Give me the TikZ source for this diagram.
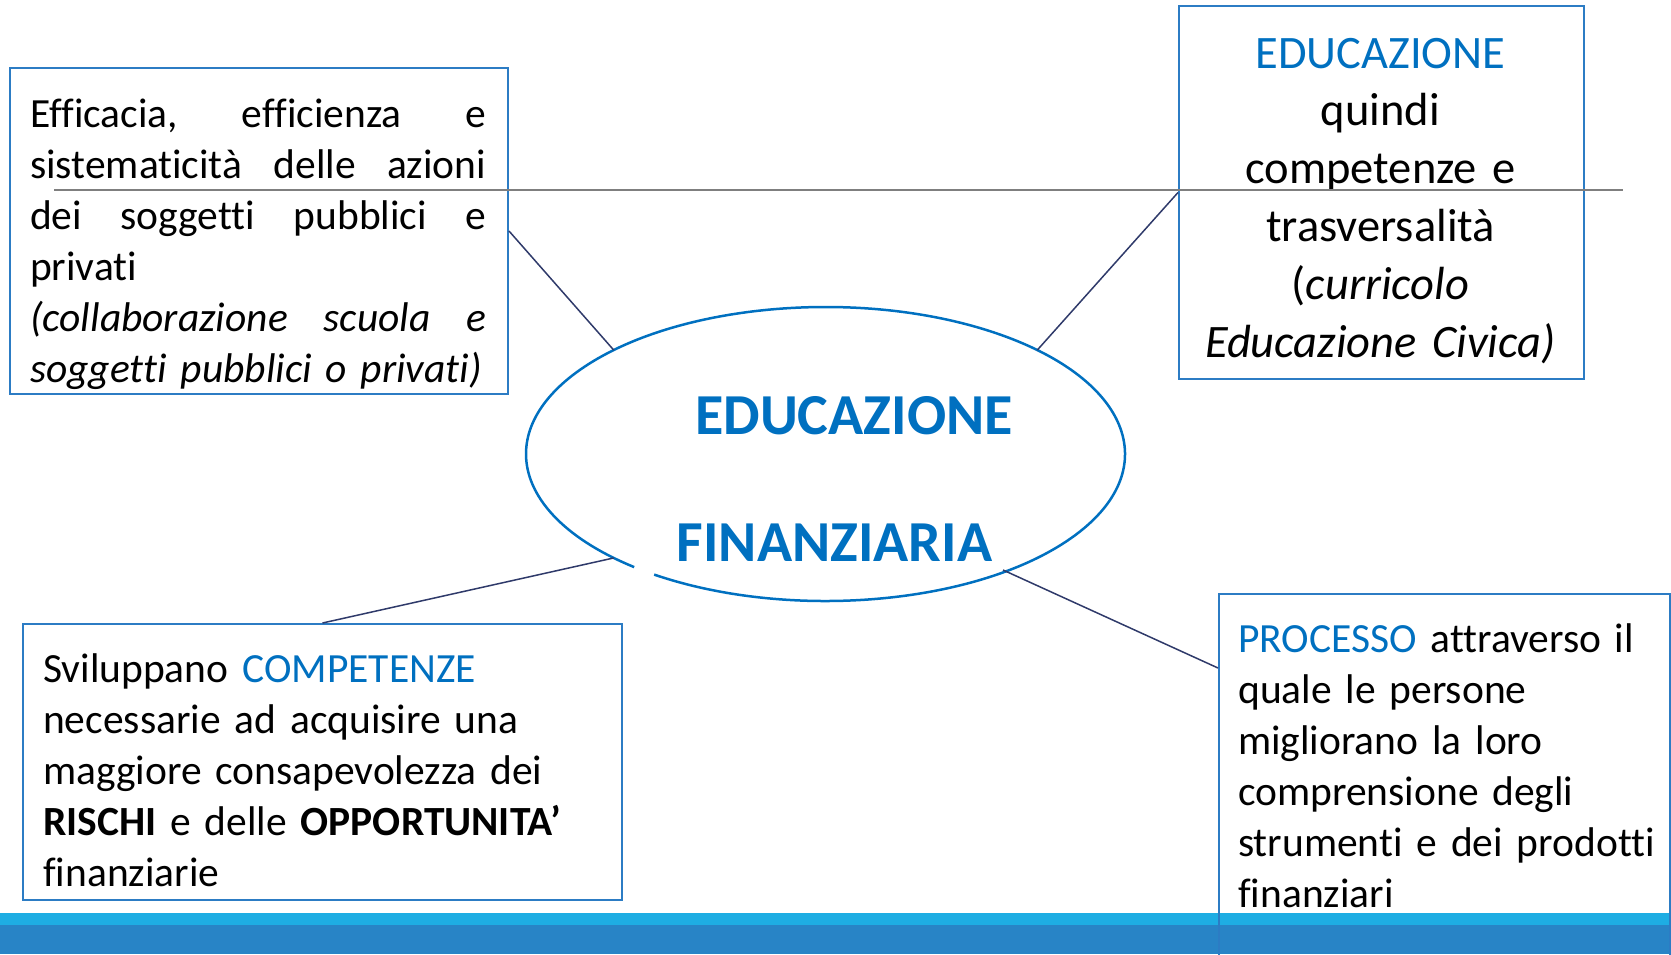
\documentclass[tikz,border=0pt]{standalone}
\usepackage{fontspec}
\setmainfont{Carlito}[Ligatures=NoCommon]
\usetikzlibrary{calc}
\definecolor{boxblue}{HTML}{2C7CC4}
\definecolor{txtblue}{HTML}{0070C0}
\definecolor{navy}{HTML}{2F3A6A}
\definecolor{grayline}{HTML}{7F7F7F}
\definecolor{barlight}{HTML}{1EADE3}
\definecolor{bardark}{HTML}{2884C6}
\newcommand{\jline}[1]{\leavevmode\hbox to 456pt{#1}}
\tikzset{
  box/.style={draw=boxblue, line width=2pt, rectangle, inner sep=0pt, anchor=north west},
  conn/.style={draw=navy, line width=1.5pt},
  ellline/.style={draw=txtblue, line width=2.5pt},
  hline/.style={draw=grayline, line width=1.1pt},
  txt/.style={inner sep=0pt, anchor=base west, align=left},
  midfont/.style={font=\fontsize{41.5}{51}\selectfont},
  bigfont/.style={font=\fontsize{46.5}{57.8}\selectfont},
  titlefont/.style={font=\fontsize{58}{70}\selectfont\bfseries, text=txtblue, inner sep=0pt, anchor=base}
}
\begin{document}
\begin{tikzpicture}[x=1pt,y=1pt]
\clip (0,0) rectangle (1671,-954);
\useasboundingbox (0,0) rectangle (1671,-954);
% bottom bar
\fill[barlight] (0,-913) rectangle (1671,-925);
\fill[bardark] (0,-925) rectangle (1671,-954);
% boxes
\node[box, minimum width=498pt, minimum height=326pt] (tl) at (9,-67) {};
\node[box, minimum width=405pt, minimum height=373pt] (tr) at (1178,-5) {};
\node[box, minimum width=599pt, minimum height=276pt] (bl) at (22,-623) {};
\node[box, minimum width=451pt, minimum height=420pt] (br) at (1218,-593) {};
% texts
\node[txt, midfont, text width=456pt] (tltext) at (30,-127) {%
\jline{Efficacia,\hfill efficienza\hfill e}\\
\jline{sistematicità\hfill delle\hfill azioni}\\
\jline{dei\hfill soggetti\hfill pubblici\hfill e}\\
privati\\
\jline{\itshape (collaborazione\hfill scuola\hfill e}\\
{\itshape soggetti pubblici o privati)}};
\node[txt, bigfont, text width=420pt, align=center, anchor=base] (trtext) at (1380.5,-68) {%
{\color{txtblue}EDUCAZIONE}\\
quindi\\
competenze e\\
trasversalità\\
(\textit{curricolo}\\
\textit{Educazione Civica)}};
\node[txt, midfont, text width=570pt] (bltext) at (43,-682) {%
Sviluppano {\color{txtblue}COMPETENZE}\\
necessarie ad acquisire una\\
maggiore consapevolezza dei\\
\textbf{RISCHI} e delle \textbf{OPPORTUNITA’}\\
finanziarie};
\node[txt, midfont, text width=425pt] (brtext) at (1238,-652) {%
{\color{txtblue}PROCESSO} attraverso il\\
quale le persone\\
migliorano la loro\\
comprensione degli\\
strumenti e dei prodotti\\
finanziari};
% horizontal line
\coordinate (h1) at (54,-190);
\coordinate (h2) at (1623,-190);
\draw[hline] (h1) -- (h2);
% ellipse
\coordinate (ec) at (825.5,-454);
\draw[ellline] ($(ec)+(235.1:299.5 and 147)$) arc[start angle=235.1, end angle=590.3, x radius=299.5, y radius=147];
\node[titlefont] (t1) at (854,-434) {EDUCAZIONE};
\node[titlefont] (t2) at (834.5,-561) {FINANZIARIA};
% connector ends
\coordinate (e1) at ($(ec)+(135:299.5 and 147)$);
\coordinate (e2) at ($(ec)+(45:299.5 and 147)$);
\coordinate (e3) at ($(ec)+(225:299.5 and 147)$);
\coordinate (e4) at (1003,-570);
\coordinate (brc) at (1218,-668);
\draw[conn] (tl.east) -- (e1);
\draw[conn] (tr.west) -- (e2);
\draw[conn] (bl.north) -- (e3);
\draw[conn] (e4) -- (brc);
\end{tikzpicture}
\end{document}
